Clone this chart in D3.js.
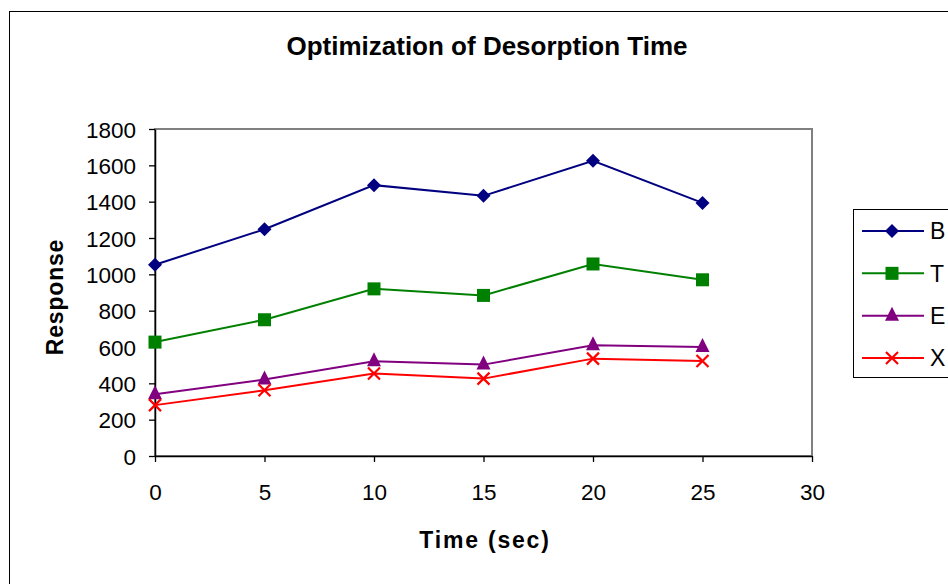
<!DOCTYPE html>
<html>
<head>
<meta charset="utf-8">
<style>
  body { margin: 0; background: #fff; }
  svg text { font-family: "Liberation Sans", Arial, sans-serif; fill: #000; }
  .tick text { font-size: 22.5px; }
</style>
<script src="https://d3js.org/d3.v7.min.js"></script>
</head>
<body>
<div id="chart"></div>
<script>
// data
var times = [0, 5, 10, 15, 20, 25];
var seriesNames = ["B", "T", "E", "X"];
var valuesB = [1053, 1248, 1491, 1432, 1625, 1393];
var valuesT = [627, 750, 920, 884, 1057, 970];
var valuesE = [340, 421, 521, 503, 609, 600];
var valuesX = [280, 362, 454, 426, 536, 523];
var yTicks = [0, 200, 400, 600, 800, 1000, 1200, 1400, 1600, 1800];
var xTicks = [0, 5, 10, 15, 20, 25, 30];

var series = [
  {name: "B", values: valuesB, color: "#000080", marker: "diamond"},
  {name: "T", values: valuesT, color: "#008000", marker: "square"},
  {name: "E", values: valuesE, color: "#800080", marker: "triangle"},
  {name: "X", values: valuesX, color: "#ff0000", marker: "cross"}
];

var W = 948, H = 584;
var plot = {left: 155, top: 129, right: 812, bottom: 456};

var svg = d3.select("#chart").append("svg")
    .attr("width", W)
    .attr("height", H);

// outer chart border (runs off the right/bottom of the picture)
svg.append("rect")
    .attr("x", 9.5).attr("y", 11.5)
    .attr("width", 960).attr("height", 600)
    .attr("fill", "#fff")
    .attr("stroke", "#000")
    .attr("stroke-width", 1);

var x = d3.scaleLinear().domain([0, 30]).range([plot.left, plot.right]);
var y = d3.scaleLinear().domain([0, 1800]).range([plot.bottom, plot.top]);

// plot area frame
svg.append("rect")
    .attr("x", plot.left).attr("y", plot.top)
    .attr("width", plot.right - plot.left)
    .attr("height", plot.bottom - plot.top)
    .attr("fill", "none")
    .attr("stroke", "#808080")
    .attr("stroke-width", 2);

// axes
var yAxis = svg.append("g")
    .attr("transform", "translate(" + plot.left + ",0)")
    .call(d3.axisLeft(y).tickValues(yTicks).tickFormat(d3.format("d"))
      .tickSize(6).tickPadding(13).tickSizeOuter(0));
var xAxis = svg.append("g")
    .attr("transform", "translate(0," + plot.bottom + ")")
    .call(d3.axisBottom(x).tickValues(xTicks).tickFormat(d3.format("d"))
      .tickSize(6).tickPadding(22).tickSizeOuter(0));
[xAxis, yAxis].forEach(function(g) {
  g.select(".domain").attr("stroke", "#000").attr("stroke-width", 1.5);
  g.selectAll(".tick line").attr("stroke", "#000").attr("stroke-width", 1.3);
  g.selectAll(".tick text").attr("font-size", null);
});
yAxis.selectAll(".tick text").attr("dy", "0.36em");

// markers
function drawMarker(g, type, color) {
  if (type === "diamond") {
    g.append("path").attr("d", "M0,-7L7,0L0,7L-7,0Z").attr("fill", color);
  } else if (type === "square") {
    g.append("rect").attr("x", -6.5).attr("y", -6.5).attr("width", 13).attr("height", 13).attr("fill", color);
  } else if (type === "triangle") {
    g.append("path").attr("d", "M0,-9L7,5L-7,5Z").attr("fill", color);
  } else {
    g.append("path").attr("d", "M-6,-6L6,6M-6,6L6,-6")
      .attr("stroke", color).attr("stroke-width", 2.2).attr("fill", "none");
  }
}

var line = d3.line()
    .x(function(d, i) { return x(times[i]); })
    .y(function(d) { return y(d); });

series.forEach(function(s) {
  svg.append("path")
      .attr("d", line(s.values))
      .attr("fill", "none")
      .attr("stroke", s.color)
      .attr("stroke-width", 2);
});
series.forEach(function(s) {
  s.values.forEach(function(v, i) {
    var g = svg.append("g").attr("transform", "translate(" + x(times[i]) + "," + y(v) + ")");
    drawMarker(g, s.marker, s.color);
  });
});

// title and axis titles
svg.append("text")
    .attr("x", 487).attr("y", 55)
    .attr("text-anchor", "middle")
    .attr("font-size", 26).attr("font-weight", "bold")
    .text("Optimization of Desorption Time");

svg.append("text")
    .attr("x", 485).attr("y", 548)
    .attr("text-anchor", "middle")
    .attr("font-size", 23).attr("font-weight", "bold")
    .attr("letter-spacing", "1.8px")
    .text("Time (sec)");

svg.append("text")
    .attr("transform", "translate(63,297) rotate(-90)")
    .attr("text-anchor", "middle")
    .attr("font-size", 23).attr("font-weight", "bold")
    .attr("letter-spacing", "0.8px")
    .text("Response");

// legend
var legend = svg.append("g");
legend.append("rect")
    .attr("x", 853.5).attr("y", 209.5)
    .attr("width", 120).attr("height", 168)
    .attr("fill", "#fff")
    .attr("stroke", "#000")
    .attr("stroke-width", 1);

var legendY = d3.scalePoint().domain(seriesNames).range([231, 358]);
series.forEach(function(s) {
  var g = legend.append("g").attr("transform", "translate(0," + legendY(s.name) + ")");
  g.append("line")
      .attr("x1", 862).attr("x2", 924)
      .attr("stroke", s.color).attr("stroke-width", 2);
  var m = g.append("g").attr("transform", "translate(892,0)");
  drawMarker(m, s.marker, s.color);
  g.append("text")
      .attr("x", 930).attr("dy", "0.36em")
      .attr("font-size", 23)
      .text(s.name);
});
</script>
</body>
</html>
